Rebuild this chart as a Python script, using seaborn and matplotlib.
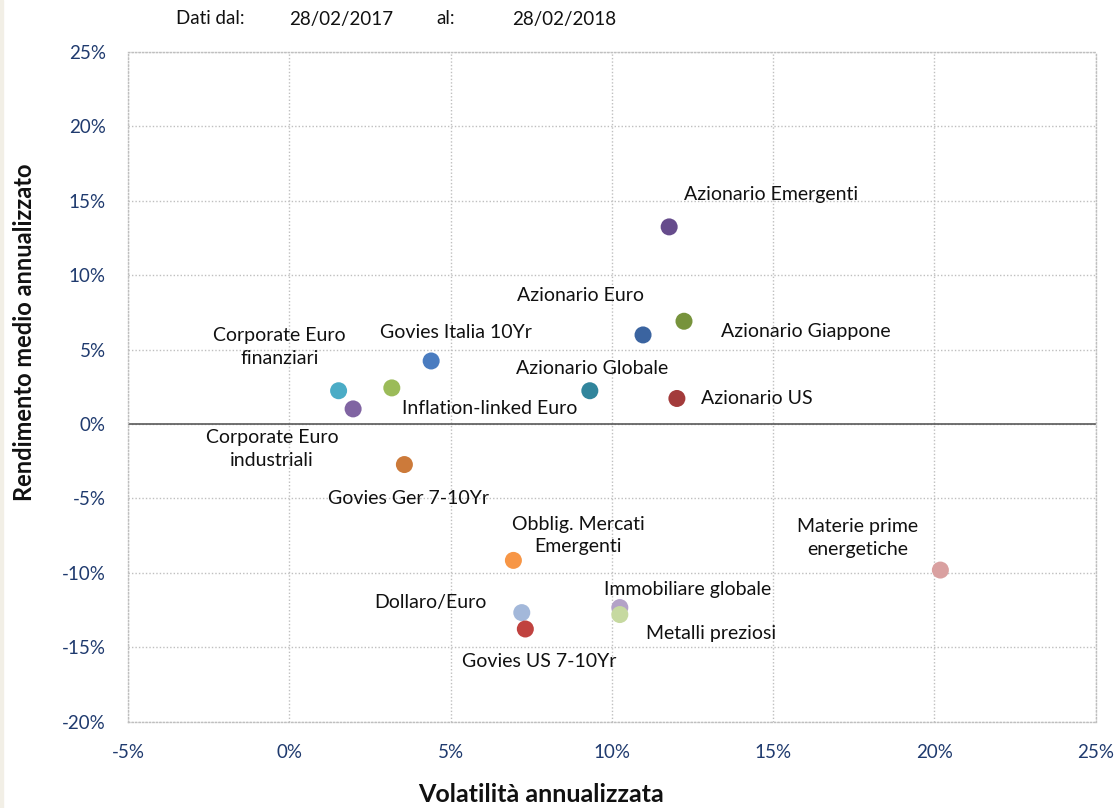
import matplotlib
matplotlib.use("Agg")
import matplotlib.pyplot as plt
from matplotlib.patches import Rectangle
from matplotlib.ticker import FuncFormatter
import seaborn as sns
import pandas as pd

# Asset classes: annualised volatility (%) and annualised mean return (%)
assets = [
    "Azionario Emergenti", "Azionario Euro", "Azionario Giappone",
    "Govies Italia 10Yr", "Corporate Euro\nfinanziari", "Azionario Globale",
    "Azionario US", "Inflation-linked Euro", "Corporate Euro\nindustriali",
    "Govies Ger 7-10Yr", "Obblig. Mercati\nEmergenti", "Materie prime\nenergetiche",
    "Immobiliare globale", "Dollaro/Euro", "Metalli preziosi", "Govies US 7-10Yr",
]
volatility = [11.78, 10.97, 12.24, 4.40, 1.53, 9.32, 12.02, 3.18, 1.98,
              3.57, 6.95, 20.19, 10.25, 7.21, 10.25, 7.32]
returns = [13.25, 5.99, 6.91, 4.24, 2.24, 2.24, 1.72, 2.43, 1.02,
           -2.72, -9.16, -9.81, -12.33, -12.67, -12.80, -13.77]

x_ticks = [-5, 0, 5, 10, 15, 20, 25]
y_ticks = [-20, -15, -10, -5, 0, 5, 10, 15, 20, 25]

palette = {
    "Azionario Emergenti": "#664c8c",
    "Azionario Euro": "#3b64a0",
    "Azionario Giappone": "#77933c",
    "Govies Italia 10Yr": "#4a7cc0",
    "Corporate Euro\nfinanziari": "#4bacc6",
    "Azionario Globale": "#31859c",
    "Azionario US": "#a33b3b",
    "Inflation-linked Euro": "#9bbb59",
    "Corporate Euro\nindustriali": "#8064a2",
    "Govies Ger 7-10Yr": "#cc7a3a",
    "Obblig. Mercati\nEmergenti": "#f79646",
    "Materie prime\nenergetiche": "#d9a0a0",
    "Immobiliare globale": "#b3a2c7",
    "Dollaro/Euro": "#a3b8da",
    "Metalli preziosi": "#c6d9a0",
    "Govies US 7-10Yr": "#c0423f",
}

# label offsets from each marker, in pixels (dx, dy)
label_offset = {
    "Azionario Emergenti": (102, 32),
    "Azionario Euro": (-63, 39),
    "Azionario Giappone": (122, -10),
    "Govies Italia 10Yr": (25, 28),
    "Corporate Euro\nfinanziari": (-59, 44),
    "Azionario Globale": (2, 22),
    "Azionario US": (80, 0),
    "Inflation-linked Euro": (98, -21),
    "Corporate Euro\nindustriali": (-81, -40),
    "Govies Ger 7-10Yr": (4, -34),
    "Obblig. Mercati\nEmergenti": (65, 25),
    "Materie prime\nenergetiche": (-83, 32),
    "Immobiliare globale": (68, 18),
    "Dollaro/Euro": (-91, 10),
    "Metalli preziosi": (91, -19),
    "Govies US 7-10Yr": (14, -33),
}

df = pd.DataFrame({"asset": assets, "vol": volatility, "ret": returns})

sns.set_theme(style="white")
plt.rcParams["font.family"] = ["Lato", "DejaVu Sans"]

fig = plt.figure(figsize=(11.19, 8.08), dpi=100)
fig.patches.append(Rectangle((0, 0), 0.003, 1, transform=fig.transFigure,
                             color="#f2efe6", zorder=0))
ax = fig.add_axes([0.1144, 0.1068, 0.8646, 0.8288])

grid_col = "#bfbfbf"
ax.set_xlim(-5, 25)
ax.set_ylim(-20, 25)
ax.set_xticks(x_ticks)
ax.set_yticks(y_ticks)
ax.grid(True, color=grid_col, linestyle=(0, (1, 1.5)), linewidth=1)
for s in ax.spines.values():
    s.set_color(grid_col)
    s.set_linestyle((0, (1, 1.5)))
    s.set_linewidth(1)
ax.axhline(0, color="#595959", linewidth=1.2, zorder=1)

sns.scatterplot(data=df, x="vol", y="ret", hue="asset", palette=palette,
                s=150, linewidth=0, legend=False, ax=ax, zorder=3)

for name, xv, yv in zip(assets, volatility, returns):
    dx, dy = label_offset[name]
    ax.annotate(name, (xv, yv), xytext=(dx, dy), textcoords="offset pixels",
                ha="center", va="center", fontsize=14, color="#111111",
                linespacing=1.4)

pct = FuncFormatter(lambda v, _: f"{v:.0f}%")
ax.xaxis.set_major_formatter(pct)
ax.yaxis.set_major_formatter(pct)
ax.tick_params(axis="both", length=0, labelsize=13.5, labelcolor="#1f3a6e")
ax.tick_params(axis="x", pad=16)
ax.tick_params(axis="y", pad=16)

ax.set_xlabel("")
ax.set_ylabel("")
fig.text(541 / 1119, 1 - 794 / 808, "Volatilità annualizzata", ha="center",
         va="center", fontsize=18, fontweight="bold", color="#111111")
fig.text(25 / 1119, 1 - 332 / 808, "Rendimento medio annualizzato",
         ha="center", va="center", rotation=90, fontsize=17,
         fontweight="bold", color="#111111")

head_y = 1 - 19 / 808
for txt, xp in [("Dati dal:", 176), ("28/02/2017", 289), ("al:", 436), ("28/02/2018", 512)]:
    fig.text(xp / 1119, head_y, txt, ha="left", va="center", fontsize=13.5,
             color="#111111")

fig.savefig("out.png", dpi=100)
